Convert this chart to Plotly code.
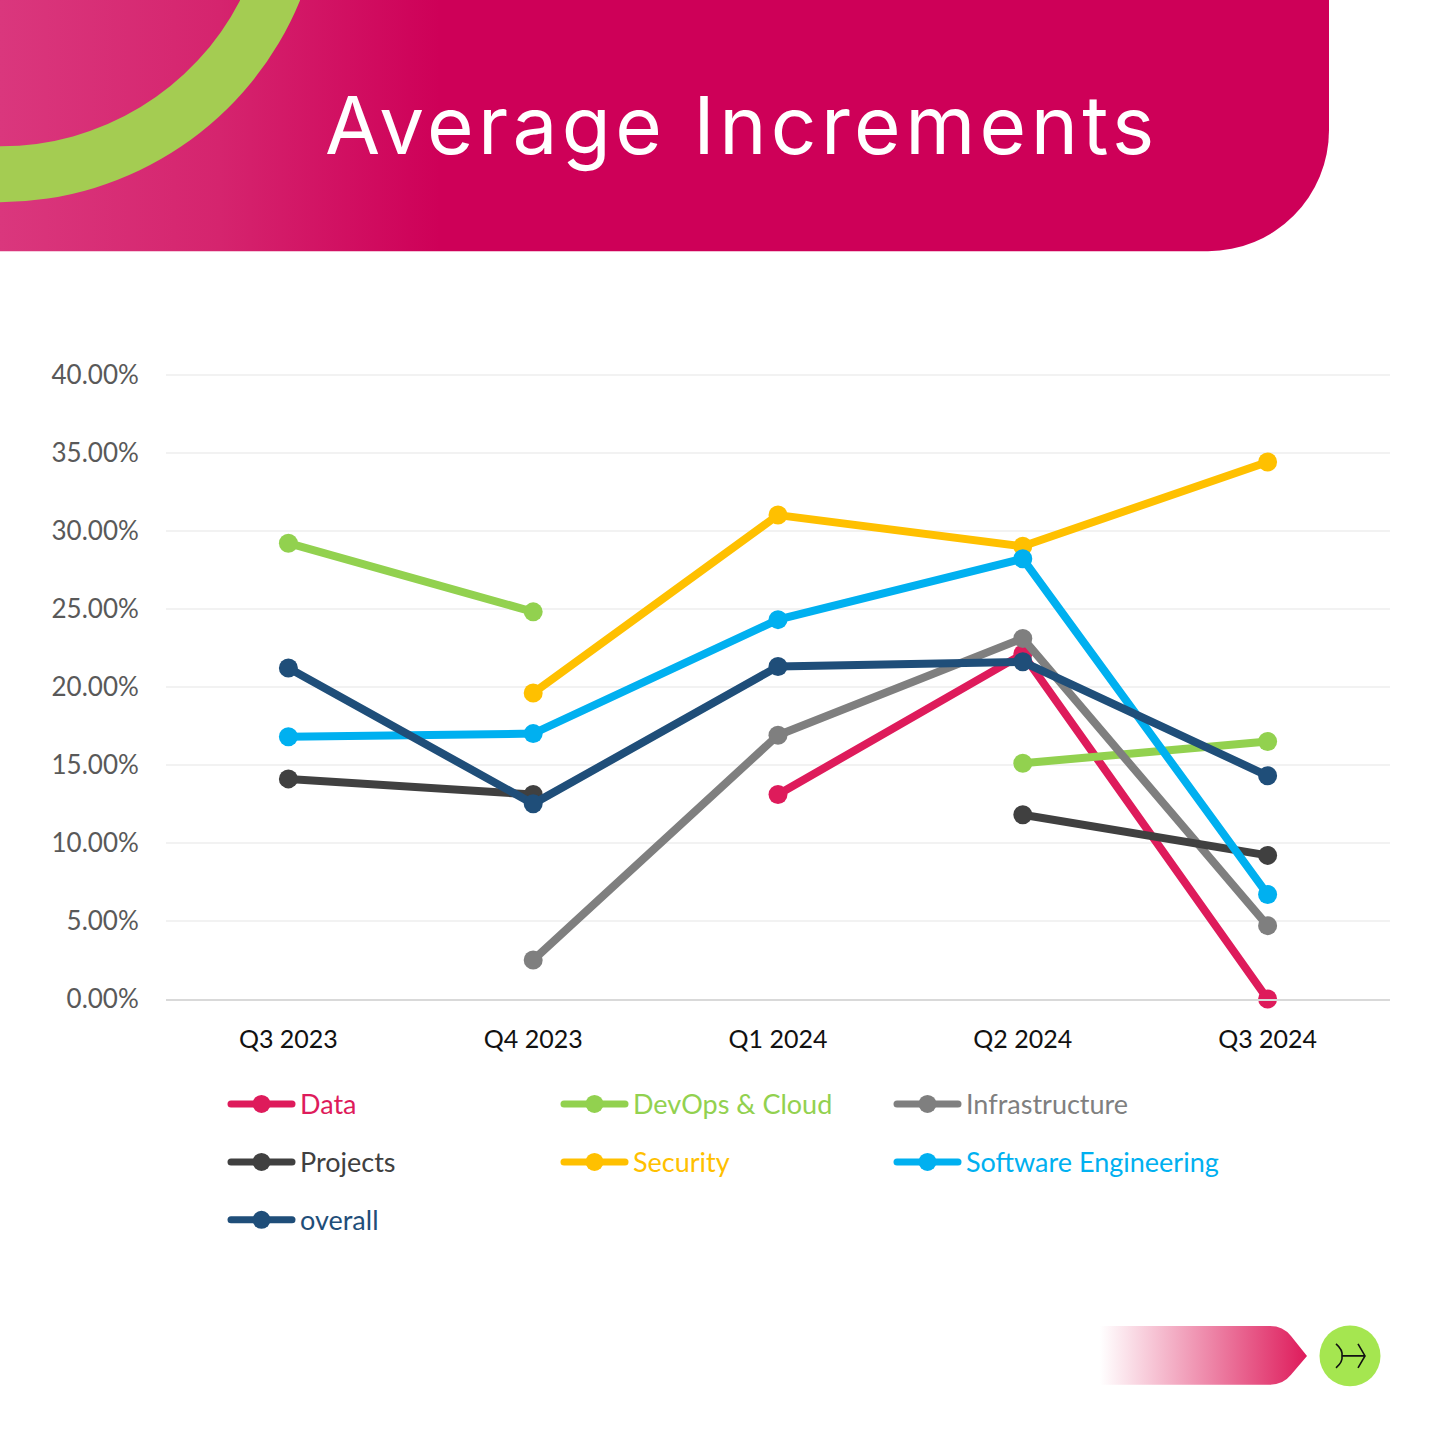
import base64
import plotly.graph_objects as go

quarters = ["Q3 2023", "Q4 2023", "Q1 2024", "Q2 2024", "Q3 2024"]
data_vals = [None, None, 13.1, 22.1, 0.0]
devops_vals = [29.2, 24.8, None, 15.1, 16.5]
infra_vals = [None, 2.5, 16.9, 23.1, 4.7]
projects_vals = [14.1, 13.1, None, 11.8, 9.2]
security_vals = [None, 19.6, 31.0, 29.0, 34.4]
software_vals = [16.8, 17.0, 24.3, 28.2, 6.7]
overall_vals = [21.2, 12.5, 21.3, 21.6, 14.3]
y_ticks = [0, 5, 10, 15, 20, 25, 30, 35, 40]

series = [
    ("Data", data_vals, "#DE1B5B", "legend"),
    ("DevOps &amp; Cloud", devops_vals, "#92D14F", "legend"),
    ("Infrastructure", infra_vals, "#7F7F7F", "legend"),
    ("Projects", projects_vals, "#404040", "legend2"),
    ("Security", security_vals, "#FFC000", "legend2"),
    ("Software Engineering", software_vals, "#00B0F0", "legend2"),
    ("overall", overall_vals, "#1F4E79", "legend3"),
]

W, H = 1440, 1440
Y_TOP = 40.1                     # a little head-room so the 40 % gridline is kept
L, R, B = 166, 1390, 999.5
T = B - 625 * Y_TOP / 40         # 40 % sits at pixel row 374.5
PW, PH = R - L, B - T
BLEED = 3                        # decoration overshoots the top edge of the page


def px(x):
    return (x - L) / PW


def py(y):
    return (B - y) / PH


svg = f'''<svg xmlns="http://www.w3.org/2000/svg" width="{W}" height="{H + BLEED}" viewBox="0 {-BLEED} {W} {H + BLEED}">
<defs>
<linearGradient id="g1" gradientUnits="userSpaceOnUse" x1="0" y1="0" x2="440" y2="0">
<stop offset="0" stop-color="#DA377D"/><stop offset="0.5" stop-color="#D5246E"/><stop offset="1" stop-color="#CE0058"/></linearGradient>
<linearGradient id="g2" gradientUnits="userSpaceOnUse" x1="1100" y1="0" x2="1307" y2="0">
<stop offset="0" stop-color="#DE1B5B" stop-opacity="0"/><stop offset="1" stop-color="#DE1B5B"/></linearGradient>
</defs>
<path d="M0 {-BLEED}H1329V130A121 121 0 0 1 1208 251H0Z" fill="url(#g1)"/>
<path d="M0 202A325 325 0 0 0 300 0L301 {-BLEED}H241L240 0A269 269 0 0 1 0 146Z" fill="#A4CC52"/>
<g transform="translate(0 0.7)">
<path d="M1100 1326H1270Q1283 1326 1291 1336L1307 1356L1291 1375Q1283 1385 1270 1385H1100Z" fill="url(#g2)"/>
<circle cx="1350" cy="1356" r="30.5" fill="#A5E650"/>
<path d="M1336 1344Q1343 1350 1342 1356Q1343 1362 1336 1368M1342 1356H1365M1358 1344L1365 1356L1358 1368" fill="none" stroke="#111" stroke-width="1.6"/>
</g>
</svg>'''
svg_uri = "data:image/svg+xml;base64," + base64.b64encode(svg.encode()).decode()

fig = go.Figure()
for name, vals, color, leg in series:
    fig.add_trace(go.Scatter(
        x=quarters, y=vals, mode="lines+markers",
        name=f'<span style="color:{color}">{name}</span>',
        line=dict(color=color, width=8),
        marker=dict(color=color, size=19),
        cliponaxis=False, legend=leg,
    ))

legend_font = dict(family="Lato", size=27)
legend_base = dict(
    orientation="h", xanchor="left", yanchor="middle",
    entrywidth=251, entrywidthmode="pixels", itemwidth=67,
    bgcolor="rgba(0,0,0,0)", font=legend_font, itemclick=False, itemdoubleclick=False,
)

fig.update_layout(
    width=W, height=H, autosize=False,
    margin=dict(l=L, r=W - R, t=T, b=H - B, autoexpand=False),
    paper_bgcolor="white", plot_bgcolor="white",
    showlegend=True,
    legend=dict(x=px(223), y=py(1105), **legend_base),
    legend2=dict(x=px(223), y=py(1163), **legend_base),
    legend3=dict(x=px(223), y=py(1221), **legend_base),
    images=[dict(source=svg_uri, xref="paper", yref="paper", x=px(0), y=py(-BLEED),
                 sizex=W / PW, sizey=(H + BLEED) / PH, sizing="stretch",
                 xanchor="left", yanchor="top", layer="below")],
    annotations=[dict(text='<span style="letter-spacing:4.4px">Average Increments</span>',
                      xref="paper", yref="paper",
                      x=px(742), y=py(124), xanchor="center", yanchor="middle",
                      showarrow=False,
                      font=dict(family="Inter", size=80, color="white", weight=400))],
    xaxis=dict(type="category", categoryorder="array", categoryarray=quarters,
               range=[-0.5, 4.5], showgrid=False, showline=True, linecolor="#D9D9D9",
               linewidth=2, ticks="outside", ticklen=17, tickcolor="rgba(0,0,0,0)",
               tickfont=dict(family="Lato", size=25, color="#111111"), zeroline=False),
    yaxis=dict(range=[0, Y_TOP], tickvals=y_ticks, ticktext=[f"{v:.2f}%" for v in y_ticks],
               showgrid=True, gridcolor="#F2F2F2", gridwidth=2, zeroline=False,
               showline=False, ticks="outside", ticklen=21, tickcolor="rgba(0,0,0,0)",
               tickfont=dict(family="Lato", size=26, color="#595959")),
)

post = """
document.body.style.margin = '0';
document.querySelectorAll('.legendlines path').forEach(function (p) {
  p.style.strokeWidth = '7px';
  p.style.strokeLinecap = 'round';
  var d = p.getAttribute('d');
  var m = /^M([-\\d.]+),([-\\d.]+)h([-\\d.]+)/.exec(d);
  if (m) {
    p.setAttribute('d', 'M' + (parseFloat(m[1]) + 3) + ',' + m[2] + 'h' + (parseFloat(m[3]) - 6));
  }
});
document.querySelectorAll('.legendpoints path').forEach(function (p) {
  p.setAttribute('transform', (p.getAttribute('transform') || '') + ' scale(1.125)');
});
"""
fig.write_html("out.html", post_script=post, config=dict(displayModeBar=False))
